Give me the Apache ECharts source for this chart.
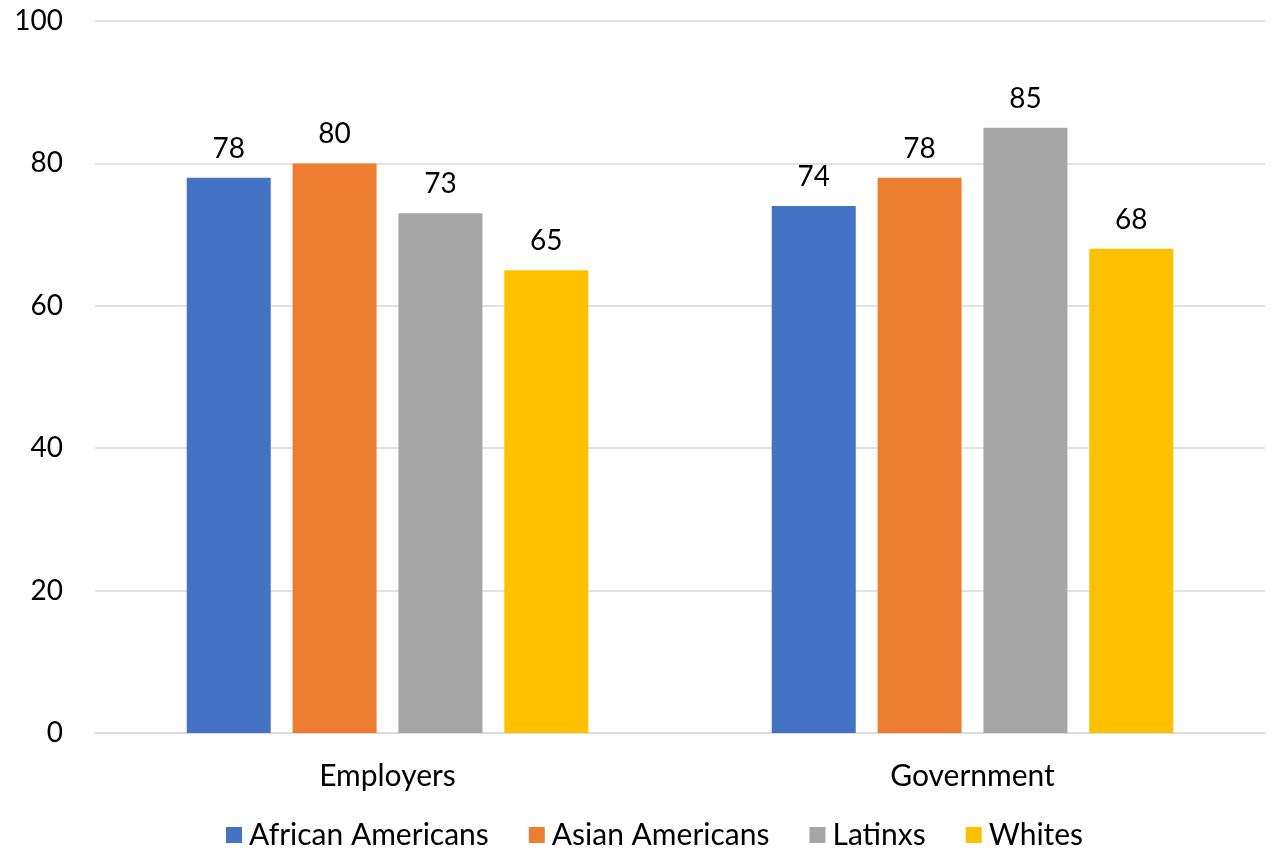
<!DOCTYPE html>
<html>
<head>
<meta charset="utf-8">
<script src="https://cdn.jsdelivr.net/npm/echarts@6/dist/echarts.min.js"></script>
<style>
  html, body { margin: 0; padding: 0; background: #fff; }
  #chart { width: 1271px; height: 850px; }
</style>
</head>
<body>
<div id="chart"></div>
<script>
// Survey percentages by group, for two institutions
const categories = ['Employers', 'Government'];
const seriesNames = ['African Americans', 'Asian Americans', 'Latinxs', 'Whites'];
const africanAmericans = [78, 74];
const asianAmericans = [80, 78];
const latinxs = [73, 85];
const whites = [65, 68];
const colors = ['#4472C4', '#ED7D31', '#A5A5A5', '#FFC000'];

const values = [africanAmericans, asianAmericans, latinxs, whites];
const font = 'Lato, "Open Sans", sans-serif';
const numSize = 28;
const textSize = 30;

const chart = echarts.init(document.getElementById('chart'));
chart.setOption({
  animation: false,
  color: colors,
  textStyle: { fontFamily: font },
  grid: { left: 95, right: 6, top: 21, bottom: 117, containLabel: false },
  legend: {
    bottom: -5,
    left: 221,
    padding: [5, 0, 5, 5],
    itemWidth: 16,
    itemHeight: 16,
    itemGap: 40,
    icon: 'rect',
    textStyle: { fontSize: textSize, color: '#000', fontFamily: font, padding: [0, 0, 0, 2] },
    data: seriesNames
  },
  xAxis: {
    type: 'category',
    data: categories,
    axisLine: { lineStyle: { color: '#D9D9D9', width: 1.5 } },
    axisTick: { show: false },
    axisLabel: { fontSize: textSize, color: '#000', margin: 28, fontFamily: font }
  },
  yAxis: {
    type: 'value',
    min: 0,
    max: 100,
    interval: 20,
    axisLine: { show: false },
    axisTick: { show: false },
    splitLine: { lineStyle: { color: '#D9D9D9', width: 1.5 } },
    axisLabel: { fontSize: numSize, color: '#000', margin: 32, fontFamily: font }
  },
  series: seriesNames.map((name, i) => ({
    name,
    type: 'bar',
    data: values[i],
    barWidth: 84,
    barGap: '26%',
    label: {
      show: true,
      position: 'top',
      distance: 15,
      fontSize: numSize,
      color: '#000',
      fontFamily: font
    }
  }))
});
</script>
</body>
</html>
